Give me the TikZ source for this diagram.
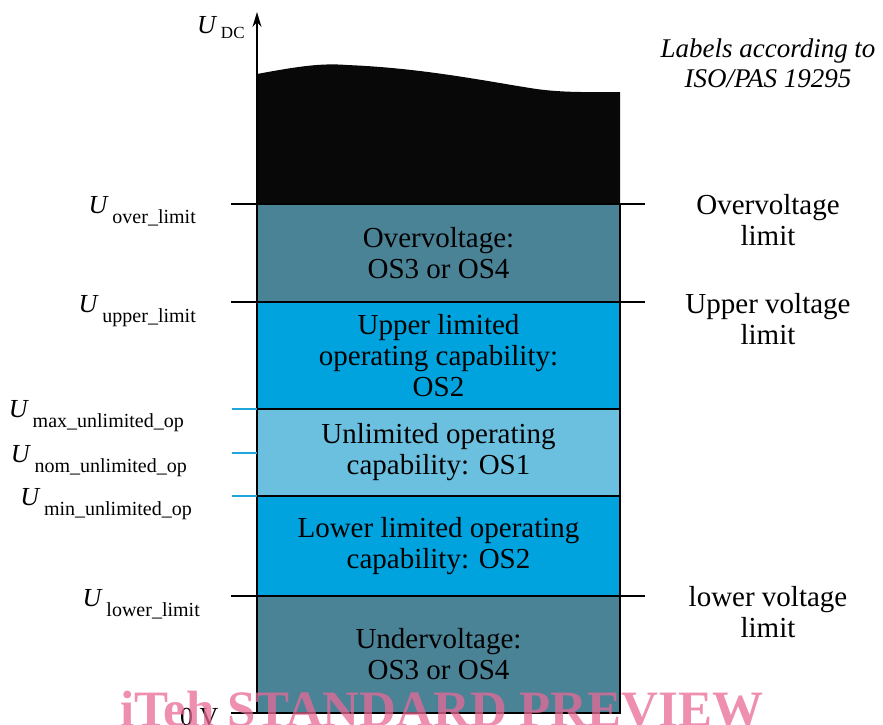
\documentclass[tikz,border=0pt]{standalone}
\usepackage{fontspec}
\setmainfont{Liberation Serif}
\usetikzlibrary{arrows.meta}

\definecolor{osteal}{RGB}{74,130,150}
\definecolor{osblue}{RGB}{0,163,221}
\definecolor{oslight}{RGB}{108,192,223}
\definecolor{ostick}{RGB}{30,165,220}
\definecolor{wmpink}{RGB}{232,105,150}

% voltage symbol with a lowered subscript
\newcommand{\ulabel}[1]{{\fontsize{26}{26}\selectfont\itshape U}\hspace{5pt}\raisebox{-10pt}{\fontsize{20}{20}\selectfont #1}}

\begin{document}
\begin{tikzpicture}[x=1pt,y=-1pt,
  band/.style={draw=black, line width=1.1pt, minimum width=363pt, inner sep=0pt,
    align=center, font=\fontsize{29}{31}\selectfont},
  limitline/.style={draw=black, line width=1.8pt},
  tickline/.style={draw=ostick, line width=1.8pt},
  leftlabel/.style={anchor=base east, inner sep=0pt},
  rightlabel/.style={anchor=base, inner sep=0pt, align=center, font=\fontsize{29}{31}\selectfont},
]
\useasboundingbox (0,0) rectangle (883,724);

% operating-state bands
\node[band, fill=osteal,  minimum height=98pt]  (over)  at (438.5,253)   {Overvoltage:\\OS3 or OS4};
\node[band, fill=osblue,  minimum height=107pt] (upper) at (438.5,355.5) {Upper limited\\operating capability:\\OS2};
\node[band, fill=oslight, minimum height=87pt]  (unlim) at (438.5,452.5) {Unlimited operating\\capability: OS1};
\node[band, fill=osblue,  minimum height=100pt] (lower) at (438.5,546)   {Lower limited operating\\capability: OS2};
\node[band, fill=osteal,  minimum height=117pt] (under) at (438.5,654.5) {Undervoltage:\\OS3 or OS4};

% region above the overvoltage limit
\fill[black!97] (257,204) -- (257,74)
  .. controls (300,66) and (322,63) .. (347,65)
  .. controls (420,68) and (480,80) .. (530,88)
  .. controls (560,93) and (590,92) .. (620,92)
  -- (620,204) -- cycle;

% voltage axis
\coordinate (origin) at (257,713);
\coordinate (axistop) at (257,12);
\draw[line width=1.4pt, -{Stealth[length=15pt,width=9pt]}] (origin) -- (axistop);

% limit lines
\draw[limitline] (231,204) -- (645,204);
\draw[limitline] (231,302) -- (645,302);
\draw[limitline] (231,596) -- (645,596);
\draw[limitline] (231,713) -- (620,713);

% ticks of the unlimited operating range
\draw[tickline] (232,409) -- (257,409);
\draw[tickline] (232,453) -- (257,453);
\draw[tickline] (232,496) -- (257,496);

% axis title
\node[anchor=base west, inner sep=0pt] (udc) at (197,33)
  {{\fontsize{26}{26}\selectfont\itshape U}\hspace{5pt}\raisebox{-5pt}{\fontsize{17}{17}\selectfont DC}};

% voltage symbols
\node[leftlabel] (lover)  at (196,213) {\ulabel{over\_limit}};
\node[leftlabel] (lupper) at (196,312) {\ulabel{upper\_limit}};
\node[leftlabel] (lmax)   at (184,417) {\ulabel{max\_unlimited\_op}};
\node[leftlabel] (lnom)   at (187,462) {\ulabel{nom\_unlimited\_op}};
\node[leftlabel] (lmin)   at (192,505) {\ulabel{min\_unlimited\_op}};
\node[leftlabel] (llower) at (200,606) {\ulabel{lower\_limit}};
\node[anchor=base west, inner sep=0pt, font=\fontsize{26}{26}\selectfont] (zero) at (180,725) {0 V};

% limit names (base anchor sits on the last line)
\node[rightlabel, font=\fontsize{27}{30}\selectfont\itshape] (head) at (768,87) {Labels according to\\ISO/PAS 19295};
\node[rightlabel] (rover)  at (768,245) {Overvoltage\\limit};
\node[rightlabel] (rupper) at (768,344) {Upper voltage\\limit};
\node[rightlabel] (rlower) at (768,637) {lower voltage\\limit};

% preview stamp
\node[anchor=base west, inner sep=0pt, text=wmpink, text opacity=0.75,
  font=\fontsize{51}{51}\selectfont\bfseries] (stamp) at (120,726) {iTeh STANDARD PREVIEW};
\end{tikzpicture}
\end{document}
